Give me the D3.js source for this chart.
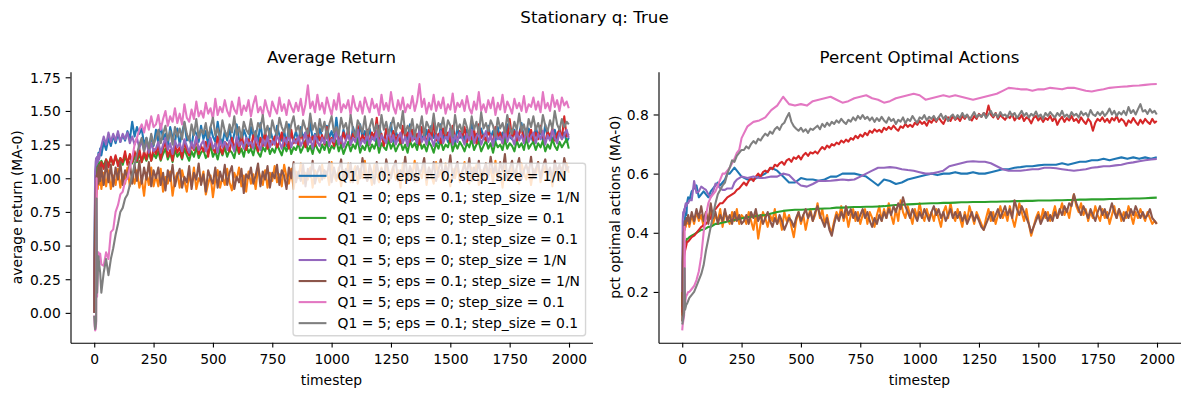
<!DOCTYPE html>
<html><head><meta charset="utf-8">
<script src="https://cdn.jsdelivr.net/npm/d3@7"></script>
<style>
body{margin:0;background:#fff}
svg{display:block}
text{font-family:"DejaVu Sans",sans-serif;fill:#000}
</style>
</head><body>
<svg id="c" width="1189" height="396"></svg>
<script>
// ---------------- DATA ----------------
// timesteps for the noisy series (dense) and the smooth series (coarse)
const stepsFine = [0,2,4,6,8,10,12,15,18,20, 25,30,40,50,60,70,80,90,100,110,
  120,130,140,150,160,170,180,190,200,210, 220,230,240,250,
  260,270,280,290,300,310,320,330,340,350, 360,370,380,390,400,410,420,430,440,450,
  460,470,480,490,500,510,520,530,540,550, 560,570,580,590,600,610,620,630,640,650,
  660,670,680,690,700,710,720,730,740,750, 760,770,780,790,800,810,820,830,840,850,
  860,870,880,890,900,910,920,930,940,950, 960,970,980,990,1000,1010,1020,1030,1040,1050,
  1060,1070,1080,1090,1100,1110,1120,1130,1140,1150, 1160,1170,1180,1190,1200,1210,1220,1230,1240,1250,
  1260,1270,1280,1290,1300,1310,1320,1330,1340,1350, 1360,1370,1380,1390,1400,1410,1420,1430,1440,1450,
  1460,1470,1480,1490,1500,1510,1520,1530,1540,1550, 1560,1570,1580,1590,1600,1610,1620,1630,1640,1650,
  1660,1670,1680,1690,1700,1710,1720,1730,1740,1750, 1760,1770,1780,1790,1800,1810,1820,1830,1840,1850,
  1860,1870,1880,1890,1900,1910,1920,1930,1940,1950, 1960,1970,1980,1990,1999];
const stepsCoarse = [0,2,4,6,8,10,12,15,18,20, 25,30,40,50,60,70,80,90,100,110,
  120,130,140,150,160,170,180,190,200,210, 220,230,240,250,
  275,300,325,350,375,400,425,450,475,500, 525,550,575,600,625,650,675,700,725,750,
  775,800,825,850,875,900,925,950,975,1000, 1025,1050,1075,1100,1125,1150,1175,1200,1225,1250,
  1275,1300,1325,1350,1375,1400,1425,1450,1475,1500, 1525,1550,1575,1600,1625,1650,1675,1700,1725,1750,
  1775,1800,1825,1850,1875,1900,1925,1950,1975,1999];

const seriesLabels = [
  "Q1 = 0; eps = 0; step_size = 1/N",
  "Q1 = 0; eps = 0.1; step_size = 1/N",
  "Q1 = 0; eps = 0; step_size = 0.1",
  "Q1 = 0; eps = 0.1; step_size = 0.1",
  "Q1 = 5; eps = 0; step_size = 1/N",
  "Q1 = 5; eps = 0.1; step_size = 1/N",
  "Q1 = 5; eps = 0; step_size = 0.1",
  "Q1 = 5; eps = 0.1; step_size = 0.1"
];
const colors = ["#1f77b4","#ff7f0e","#2ca02c","#d62728","#9467bd","#8c564b","#e377c2","#7f7f7f"];

const xTicks = [0,250,500,750,1000,1250,1500,1750,2000];
const retTicks = [0,0.25,0.5,0.75,1.0,1.25,1.5,1.75];
const pctTicks = [0.2,0.4,0.6,0.8];

// ----- Average return (MA-0), on stepsFine -----
const ret_q0_e0_1N = [0.02,0.55,0.92,1.05,1.1,1.12,1.15,1.12,1.19,1.14,
 1.22,1.17,1.27,1.21,1.3,1.24,1.32,1.26,1.33,1.27,
 1.32,1.28,1.35,1.29,1.42,1.31,1.38,1.33,1.37,1.25,
 1.3,1.22,1.31,1.24,
 1.36,1.26,1.4,1.29,1.33,1.24,1.38,1.3,1.27,1.37,
 1.25,1.34,1.41,1.28,1.31,1.23,1.36,1.33,1.27,1.39,
 1.29,1.35,1.24,1.38,1.31,1.27,1.42,1.3,1.26,1.35,
 1.28,1.37,1.25,1.33,1.4,1.29,1.26,1.36,1.31,1.24,
 1.38,1.3,1.35,1.27,1.41,1.28,1.33,1.25,1.37,1.3,
 1.26,1.39,1.32,1.28,1.36,1.24,1.4,1.31,1.29,1.35,
 1.27,1.38,1.3,1.34,1.25,1.42,1.29,1.33,1.27,1.37,
 1.31,1.26,1.39,1.3,1.35,1.28,1.45,1.3,1.26,1.36,
 1.29,1.34,1.25,1.38,1.32,1.27,1.4,1.3,1.35,1.26,
 1.37,1.29,1.33,1.25,1.39,1.31,1.28,1.36,1.3,1.41,
 1.27,1.35,1.3,1.26,1.38,1.32,1.29,1.4,1.28,1.34,
 1.25,1.37,1.31,1.29,1.36,1.27,1.39,1.3,1.33,1.26,
 1.4,1.29,1.34,1.27,1.37,1.31,1.25,1.38,1.3,1.35,
 1.28,1.36,1.3,1.42,1.29,1.33,1.26,1.37,1.31,1.28,
 1.39,1.3,1.35,1.27,1.38,1.29,1.34,1.26,1.4,1.31,
 1.29,1.36,1.28,1.33,1.41,1.3,1.27,1.37,1.32,1.26,
 1.38,1.31,1.35,1.28,1.4,1.3,1.33,1.27,1.36,1.29,
 1.37,1.3,1.34,1.27,1.3];
const ret_q0_e01_1N = [0.0,0.3,0.55,0.72,0.83,0.9,0.97,0.92,1.04,0.95,
 1.02,0.92,1.04,0.94,1.06,0.92,1.02,0.95,1.07,0.93,
 1.03,0.96,1.08,0.94,1.02,0.96,1.06,0.93,1.0,0.87,
 1.04,0.95,1.08,0.94,
 1.02,0.94,1.07,0.9,1.01,0.96,1.05,0.87,0.99,1.04,
 0.93,1.06,0.98,0.9,1.03,0.95,1.08,0.92,1.0,0.97,
 1.05,0.88,0.96,1.02,0.86,0.99,1.06,0.93,1.01,0.95,
 1.07,0.97,0.91,1.04,0.99,1.08,0.94,1.02,0.9,1.05,
 0.96,1.03,0.92,1.08,1.0,0.95,1.06,0.93,1.04,0.98,
 1.09,0.97,1.03,0.94,1.1,1.01,0.96,1.07,0.92,1.05,
 1.0,1.11,0.96,1.04,0.99,1.08,0.93,1.06,1.02,0.97,
 1.1,1.0,1.05,0.95,1.12,1.02,0.98,1.08,0.94,1.06,
 1.01,1.11,0.97,1.04,1.09,0.96,1.07,1.0,1.13,0.98,
 1.05,0.95,1.1,1.02,0.97,1.08,1.01,1.12,0.96,1.04,
 1.09,0.99,1.06,0.93,1.11,1.02,0.98,1.07,1.03,1.13,
 0.97,1.05,1.0,1.1,0.95,1.08,1.02,0.96,1.12,1.01,
 1.06,0.98,1.11,1.03,0.94,1.07,1.0,1.1,0.97,1.05,
 1.12,1.01,0.96,1.08,1.03,1.1,0.95,1.06,0.99,1.11,
 1.02,1.07,0.97,1.13,1.0,1.05,0.93,1.09,1.03,0.98,
 1.1,1.01,1.06,0.96,1.11,1.04,0.99,1.08,0.95,1.07,
 1.02,1.12,0.97,1.05,1.09,1.0,1.06,0.94,1.1,1.03,
 0.98,1.08,1.01,1.11,1.04];
const ret_q0_e0_01 = [0.05,0.5,0.82,0.96,1.03,1.08,1.06,1.1,1.07,1.12,
 1.08,1.13,1.09,1.14,1.1,1.15,1.1,1.16,1.11,1.15,
 1.1,1.16,1.12,1.17,1.11,1.16,1.12,1.18,1.12,1.17,
 1.13,1.19,1.13,1.18,
 1.15,1.2,1.13,1.18,1.22,1.14,1.19,1.12,1.21,1.16,
 1.19,1.14,1.22,1.17,1.13,1.2,1.16,1.23,1.15,1.19,
 1.21,1.15,1.18,1.24,1.16,1.2,1.14,1.22,1.17,1.23,
 1.16,1.21,1.19,1.15,1.24,1.18,1.22,1.16,1.25,1.19,
 1.22,1.17,1.25,1.19,1.16,1.23,1.2,1.26,1.18,1.22,
 1.19,1.25,1.21,1.17,1.24,1.2,1.27,1.18,1.23,1.21,
 1.26,1.19,1.23,1.28,1.2,1.24,1.18,1.26,1.22,1.19,
 1.25,1.21,1.27,1.19,1.24,1.22,1.28,1.2,1.25,1.18,
 1.23,1.27,1.2,1.25,1.22,1.29,1.19,1.24,1.21,1.27,
 1.2,1.25,1.22,1.28,1.19,1.26,1.23,1.21,1.29,1.22,
 1.26,1.2,1.24,1.27,1.21,1.25,1.19,1.28,1.23,1.26,
 1.21,1.29,1.22,1.25,1.2,1.27,1.24,1.19,1.26,1.22,
 1.28,1.21,1.25,1.23,1.3,1.2,1.26,1.22,1.27,1.24,
 1.2,1.26,1.23,1.29,1.21,1.25,1.27,1.2,1.24,1.28,
 1.22,1.26,1.19,1.27,1.23,1.25,1.21,1.29,1.22,1.26,
 1.24,1.2,1.28,1.23,1.26,1.21,1.3,1.22,1.25,1.27,
 1.21,1.26,1.23,1.28,1.2,1.25,1.22,1.29,1.24,1.21,
 1.27,1.23,1.26,1.29,1.22];
const ret_q0_e01_01 = [0.1,0.4,0.6,0.76,0.87,0.95,1.0,1.05,1.02,1.08,
 1.05,1.12,1.07,1.14,1.08,1.16,1.1,1.17,1.09,1.15,
 1.12,1.2,1.1,1.18,1.12,1.2,1.13,1.22,1.12,1.2,
 1.14,1.24,1.13,1.22,
 1.18,1.25,1.14,1.22,1.27,1.16,1.21,1.13,1.26,1.19,
 1.23,1.15,1.28,1.2,1.17,1.25,1.21,1.3,1.18,1.24,
 1.2,1.27,1.16,1.29,1.22,1.19,1.31,1.23,1.18,1.27,
 1.25,1.2,1.3,1.22,1.28,1.19,1.33,1.24,1.21,1.29,
 1.23,1.32,1.26,1.2,1.3,1.24,1.35,1.22,1.28,1.25,
 1.31,1.23,1.27,1.34,1.24,1.3,1.22,1.36,1.26,1.29,
 1.25,1.33,1.28,1.23,1.37,1.27,1.31,1.24,1.35,1.28,
 1.32,1.25,1.38,1.27,1.3,1.24,1.36,1.29,1.26,1.34,
 1.28,1.37,1.25,1.33,1.3,1.39,1.26,1.32,1.28,1.36,
 1.25,1.34,1.29,1.45,1.27,1.33,1.24,1.37,1.3,1.27,
 1.35,1.28,1.32,1.26,1.39,1.3,1.34,1.27,1.36,1.29,
 1.33,1.25,1.38,1.31,1.27,1.36,1.29,1.42,1.28,1.33,
 1.26,1.37,1.3,1.34,1.27,1.39,1.31,1.28,1.35,1.3,
 1.38,1.27,1.33,1.29,1.36,1.26,1.4,1.3,1.32,1.28,
 1.35,1.3,1.27,1.38,1.31,1.34,1.26,1.37,1.29,1.44,
 1.3,1.35,1.28,1.33,1.38,1.27,1.32,1.3,1.36,1.28,
 1.34,1.29,1.39,1.31,1.27,1.35,1.3,1.37,1.28,1.33,
 1.36,1.29,1.46,1.31,1.33];
const ret_q5_e0_1N = [0.0,0.7,1.05,1.12,1.15,1.1,1.16,1.12,1.18,1.14,
 1.2,1.24,1.31,1.25,1.34,1.27,1.33,1.28,1.35,1.27,
 1.33,1.29,1.34,1.26,1.31,1.25,1.3,1.22,1.28,1.2,
 1.27,1.19,1.26,1.2,
 1.22,1.27,1.19,1.25,1.3,1.21,1.26,1.18,1.28,1.23,
 1.26,1.2,1.29,1.24,1.19,1.27,1.22,1.31,1.21,1.25,
 1.28,1.2,1.24,1.3,1.22,1.26,1.19,1.29,1.23,1.27,
 1.21,1.28,1.25,1.2,1.31,1.24,1.27,1.22,1.3,1.25,
 1.27,1.22,1.32,1.25,1.21,1.29,1.24,1.31,1.23,1.28,
 1.25,1.32,1.27,1.22,1.3,1.26,1.33,1.23,1.29,1.26,
 1.31,1.24,1.28,1.34,1.25,1.3,1.22,1.32,1.27,1.24,
 1.3,1.26,1.33,1.24,1.29,1.27,1.35,1.25,1.31,1.23,
 1.28,1.34,1.25,1.3,1.27,1.36,1.24,1.29,1.26,1.33,
 1.25,1.31,1.28,1.35,1.24,1.32,1.29,1.26,1.36,1.27,
 1.32,1.25,1.3,1.34,1.26,1.31,1.24,1.35,1.28,1.32,
 1.26,1.36,1.27,1.31,1.25,1.33,1.3,1.24,1.32,1.28,
 1.35,1.26,1.31,1.29,1.37,1.25,1.32,1.27,1.34,1.3,
 1.25,1.33,1.28,1.36,1.26,1.31,1.34,1.25,1.3,1.35,
 1.27,1.32,1.24,1.34,1.29,1.31,1.26,1.36,1.27,1.32,
 1.3,1.25,1.35,1.28,1.32,1.26,1.37,1.27,1.31,1.34,
 1.26,1.33,1.29,1.35,1.25,1.32,1.28,1.36,1.3,1.26,
 1.34,1.29,1.32,1.36,1.3];
const ret_q5_e01_1N = [0.0,0.4,0.7,0.88,0.96,1.02,0.95,1.08,0.96,1.1,
 0.98,1.08,0.95,1.12,0.97,1.1,0.94,1.08,0.99,1.12,
 0.95,1.06,1.0,1.12,0.96,1.1,0.98,1.13,0.96,1.08,
 0.99,1.12,0.94,1.06,
 1.0,1.08,0.95,1.04,0.91,1.06,0.98,1.1,0.94,1.02,
 1.07,0.93,1.01,0.97,1.09,0.92,1.04,0.99,1.11,0.95,
 1.03,0.9,1.06,1.0,0.96,1.08,0.93,1.05,0.98,1.1,
 0.95,1.04,1.09,0.92,1.01,0.97,1.07,0.89,1.03,1.0,
 1.08,0.96,1.02,1.11,0.94,1.05,0.99,1.09,0.93,1.04,
 1.0,1.1,0.95,1.06,1.02,0.92,1.08,1.0,1.12,0.97,
 1.05,0.98,1.1,0.94,1.07,1.01,1.13,0.96,1.04,1.09,
 0.99,1.06,1.02,1.12,0.97,1.08,1.0,1.05,1.14,0.98,
 1.07,1.01,1.11,0.97,1.05,1.09,1.0,1.15,1.03,0.98,
 1.1,1.04,0.96,1.12,1.02,1.07,0.99,1.14,1.05,1.0,
 1.08,1.13,0.98,1.06,1.02,1.16,1.0,1.09,1.04,0.97,
 1.11,1.03,1.07,1.15,0.99,1.08,1.02,1.12,0.98,1.06,
 1.14,1.01,1.09,1.04,1.17,1.0,1.07,1.12,0.99,1.05,
 1.1,1.03,1.15,0.98,1.08,1.02,1.13,1.0,1.06,1.11,
 1.01,1.16,1.04,1.09,0.99,1.12,1.05,1.18,1.0,1.07,
 1.13,1.02,1.08,1.15,0.99,1.06,1.1,1.03,1.16,1.01,
 1.07,1.12,1.0,1.09,1.14,1.03,1.08,0.99,1.13,1.05,
 1.1,1.02,1.15,1.06,1.09];
const ret_q5_e0_01 = [-0.02,-0.1,-0.13,-0.12,-0.08,1.0,0.12,0.3,0.45,0.42,
 0.44,0.36,0.35,0.45,0.4,0.6,0.62,0.75,0.8,0.88,
 0.9,0.98,1.0,1.08,1.15,1.25,1.3,1.36,1.4,1.34,
 1.43,1.36,1.46,1.38,
 1.4,1.47,1.36,1.44,1.5,1.39,1.46,1.42,1.52,1.41,
 1.48,1.4,1.55,1.45,1.42,1.51,1.44,1.57,1.46,1.5,
 1.45,1.56,1.48,1.52,1.44,1.59,1.47,1.53,1.49,1.58,
 1.5,1.46,1.57,1.51,1.48,1.6,1.47,1.54,1.5,1.58,
 1.46,1.55,1.61,1.49,1.53,1.47,1.58,1.51,1.46,1.57,
 1.52,1.48,1.6,1.5,1.55,1.47,1.58,1.53,1.49,1.56,
 1.5,1.59,1.47,1.55,1.69,1.52,1.57,1.49,1.62,1.51,
 1.56,1.48,1.6,1.53,1.47,1.58,1.51,1.63,1.49,1.55,
 1.52,1.58,1.47,1.61,1.53,1.5,1.57,1.48,1.6,1.54,
 1.49,1.59,1.52,1.55,1.47,1.62,1.51,1.56,1.5,1.64,
 1.53,1.48,1.58,1.51,1.6,1.49,1.55,1.52,1.61,1.5,
 1.57,1.7,1.53,1.59,1.48,1.56,1.51,1.62,1.5,1.57,
 1.52,1.6,1.48,1.55,1.51,1.63,1.49,1.56,1.53,1.58,
 1.5,1.61,1.52,1.48,1.57,1.51,1.64,1.5,1.55,1.49,
 1.58,1.52,1.6,1.47,1.56,1.51,1.62,1.49,1.57,1.53,
 1.48,1.59,1.52,1.56,1.5,1.61,1.49,1.55,1.53,1.6,
 1.51,1.57,1.49,1.64,1.52,1.56,1.5,1.62,1.53,1.58,
 1.5,1.6,1.54,1.57,1.52];
const ret_q5_e01_01 = [-0.02,-0.08,-0.12,-0.1,-0.06,0.85,0.15,0.3,0.42,0.38,
 0.3,0.15,0.3,0.4,0.28,0.4,0.48,0.58,0.66,0.75,
 0.78,0.85,0.88,0.95,1.02,1.1,1.18,1.25,1.3,1.2,
 1.3,1.22,1.33,1.25,
 1.3,1.36,1.26,1.33,1.39,1.28,1.35,1.25,1.38,1.31,
 1.37,1.29,1.42,1.33,1.28,1.4,1.32,1.44,1.3,1.36,
 1.33,1.41,1.3,1.38,1.45,1.32,1.37,1.29,1.43,1.35,
 1.31,1.4,1.34,1.46,1.32,1.38,1.3,1.42,1.36,1.33,
 1.44,1.35,1.31,1.41,1.37,1.47,1.33,1.39,1.3,1.43,
 1.36,1.32,1.45,1.38,1.34,1.42,1.31,1.4,1.46,1.35,
 1.39,1.31,1.43,1.37,1.33,1.48,1.36,1.41,1.32,1.44,
 1.35,1.42,1.3,1.4,1.46,1.34,1.38,1.32,1.45,1.37,
 1.41,1.33,1.47,1.36,1.31,1.43,1.39,1.34,1.46,1.32,
 1.38,1.44,1.35,1.4,1.31,1.47,1.36,1.42,1.33,1.39,
 1.45,1.34,1.41,1.37,1.5,1.33,1.39,1.35,1.44,1.31,
 1.4,1.36,1.46,1.32,1.42,1.38,1.35,1.48,1.34,1.41,
 1.37,1.45,1.33,1.43,1.39,1.31,1.47,1.36,1.4,1.34,
 1.44,1.38,1.32,1.46,1.36,1.42,1.33,1.49,1.37,1.41,
 1.35,1.43,1.39,1.31,1.45,1.37,1.41,1.34,1.47,1.38,
 1.33,1.42,1.36,1.48,1.35,1.4,1.32,1.44,1.38,1.46,
 1.36,1.41,1.34,1.47,1.39,1.35,1.43,1.37,1.5,1.4,
 1.36,1.44,1.38,1.42,1.4];

// ----- Percent optimal actions (MA-0) -----
// smooth series, on stepsCoarse
const pct_q0_e0_1N = [0.15,0.3,0.38,0.42,0.44,0.41,0.45,0.47,0.46,0.5,
 0.52,0.51,0.54,0.55,0.56,0.52,0.53,0.54,0.53,0.52,
 0.54,0.55,0.56,0.57,0.56,0.57,0.58,0.6,0.6,0.61,
 0.62,0.61,0.6,0.59,
 0.58,0.58,0.59,0.6,0.62,0.61,0.59,0.57,0.57,0.585,
 0.58,0.58,0.576,0.58,0.59,0.59,0.6,0.6,0.6,0.595,
 0.59,0.575,0.56,0.58,0.575,0.565,0.57,0.58,0.585,0.59,
 0.595,0.6,0.595,0.6,0.6,0.605,0.6,0.6,0.605,0.6,
 0.6,0.605,0.61,0.615,0.615,0.62,0.622,0.625,0.625,0.628,
 0.63,0.63,0.63,0.635,0.63,0.635,0.64,0.64,0.645,0.645,
 0.65,0.645,0.65,0.655,0.65,0.655,0.65,0.655,0.65,0.655];
const pct_q0_e0_01 = [0.15,0.3,0.34,0.35,0.36,0.36,0.37,0.37,0.375,0.38,
 0.38,0.385,0.39,0.395,0.4,0.405,0.41,0.41,0.415,0.42,
 0.42,0.425,0.43,0.43,0.432,0.435,0.436,0.438,0.44,0.441,
 0.443,0.445,0.447,0.449,
 0.452,0.455,0.458,0.46,0.465,0.47,0.474,0.476,0.478,0.478,
 0.479,0.48,0.481,0.482,0.483,0.485,0.485,0.486,0.487,0.487,
 0.488,0.488,0.489,0.49,0.492,0.494,0.495,0.496,0.497,0.498,
 0.499,0.5,0.5,0.501,0.501,0.502,0.503,0.503,0.504,0.504,
 0.504,0.505,0.505,0.506,0.506,0.507,0.507,0.508,0.508,0.509,
 0.509,0.509,0.51,0.51,0.511,0.511,0.512,0.512,0.513,0.513,
 0.513,0.514,0.514,0.515,0.515,0.516,0.516,0.517,0.518,0.519];
const pct_q5_e0_1N = [0.2,0.44,0.47,0.46,0.48,0.47,0.49,0.5,0.49,0.5,
 0.5,0.51,0.51,0.575,0.535,0.54,0.556,0.55,0.545,0.53,
 0.52,0.54,0.566,0.56,0.55,0.545,0.545,0.55,0.55,0.55,
 0.57,0.58,0.585,0.59,
 0.585,0.59,0.585,0.586,0.59,0.59,0.6,0.595,0.575,0.56,
 0.556,0.565,0.576,0.575,0.576,0.578,0.58,0.578,0.58,0.59,
 0.6,0.61,0.62,0.62,0.622,0.62,0.615,0.612,0.61,0.605,
 0.6,0.6,0.605,0.61,0.625,0.63,0.635,0.64,0.642,0.64,
 0.64,0.635,0.625,0.615,0.61,0.61,0.61,0.612,0.615,0.615,
 0.62,0.62,0.618,0.615,0.612,0.61,0.612,0.615,0.62,0.622,
 0.625,0.625,0.628,0.63,0.635,0.638,0.642,0.645,0.648,0.65];
const pct_q5_e0_01 = [0.07,0.09,0.1,0.11,0.12,0.42,0.16,0.18,0.19,0.19,
 0.2,0.2,0.21,0.22,0.24,0.27,0.32,0.4,0.46,0.5,
 0.52,0.53,0.54,0.56,0.58,0.6,0.6,0.61,0.62,0.635,
 0.65,0.67,0.68,0.72,
 0.76,0.775,0.78,0.79,0.815,0.83,0.86,0.835,0.83,0.835,
 0.83,0.845,0.85,0.855,0.86,0.85,0.84,0.845,0.855,0.86,
 0.865,0.855,0.85,0.84,0.845,0.855,0.86,0.865,0.87,0.865,
 0.85,0.855,0.86,0.865,0.86,0.865,0.86,0.855,0.85,0.855,
 0.86,0.865,0.87,0.88,0.89,0.888,0.885,0.885,0.88,0.885,
 0.885,0.89,0.888,0.885,0.89,0.89,0.885,0.88,0.878,0.882,
 0.885,0.89,0.892,0.894,0.895,0.897,0.898,0.9,0.902,0.903];
// noisy series, on stepsFine
const pct_q0_e01_1N = [0.12,0.3,0.38,0.4,0.42,0.41,0.43,0.42,0.44,0.43,
 0.45,0.42,0.46,0.43,0.47,0.44,0.46,0.42,0.47,0.44,
 0.48,0.43,0.46,0.44,0.48,0.42,0.47,0.45,0.43,0.47,
 0.44,0.48,0.43,0.46,
 0.45,0.43,0.47,0.44,0.41,0.46,0.38,0.43,0.47,0.45,
 0.42,0.46,0.44,0.48,0.43,0.45,0.41,0.47,0.44,0.46,
 0.42,0.385,0.44,0.47,0.43,0.46,0.41,0.45,0.48,0.44,
 0.46,0.5,0.45,0.48,0.43,0.46,0.42,0.4,0.44,0.47,
 0.45,0.49,0.44,0.47,0.42,0.46,0.48,0.44,0.47,0.43,
 0.46,0.48,0.43,0.47,0.45,0.42,0.46,0.49,0.44,0.48,
 0.45,0.5,0.46,0.43,0.48,0.44,0.51,0.47,0.45,0.49,
 0.46,0.43,0.48,0.45,0.5,0.46,0.44,0.48,0.45,0.47,
 0.44,0.48,0.45,0.42,0.47,0.49,0.45,0.5,0.46,0.44,
 0.48,0.45,0.42,0.47,0.44,0.49,0.46,0.43,0.47,0.45,
 0.43,0.41,0.45,0.48,0.44,0.47,0.43,0.46,0.49,0.45,
 0.47,0.44,0.49,0.45,0.42,0.46,0.5,0.47,0.44,0.48,
 0.43,0.39,0.42,0.45,0.47,0.44,0.48,0.45,0.47,0.44,
 0.46,0.49,0.45,0.47,0.5,0.46,0.48,0.45,0.5,0.53,
 0.49,0.47,0.5,0.46,0.48,0.44,0.47,0.45,0.49,0.46,
 0.44,0.48,0.45,0.47,0.43,0.46,0.49,0.45,0.48,0.44,
 0.47,0.45,0.49,0.46,0.43,0.47,0.45,0.48,0.46,0.44,
 0.47,0.45,0.43,0.44,0.43];
const pct_q0_e01_01 = [0.13,0.2,0.27,0.3,0.32,0.33,0.34,0.35,0.36,0.37,
 0.37,0.375,0.385,0.39,0.4,0.41,0.42,0.425,0.43,0.44,
 0.45,0.47,0.48,0.49,0.5,0.5,0.51,0.52,0.525,0.53,
 0.535,0.545,0.55,0.56,
 0.57,0.56,0.575,0.585,0.575,0.59,0.6,0.59,0.605,0.61,
 0.605,0.62,0.615,0.63,0.625,0.635,0.64,0.63,0.645,0.65,
 0.64,0.655,0.65,0.66,0.648,0.662,0.67,0.66,0.672,0.668,
 0.675,0.668,0.68,0.69,0.682,0.695,0.688,0.7,0.695,0.705,
 0.7,0.712,0.705,0.715,0.708,0.72,0.715,0.728,0.72,0.732,
 0.725,0.738,0.73,0.745,0.738,0.75,0.742,0.748,0.74,0.755,
 0.748,0.758,0.75,0.762,0.752,0.745,0.76,0.755,0.768,0.758,
 0.765,0.758,0.772,0.765,0.778,0.768,0.775,0.762,0.78,0.772,
 0.785,0.775,0.79,0.778,0.768,0.785,0.79,0.778,0.795,0.782,
 0.79,0.778,0.795,0.785,0.798,0.788,0.78,0.795,0.785,0.802,
 0.792,0.805,0.795,0.83,0.8,0.79,0.805,0.785,0.798,0.79,
 0.782,0.795,0.788,0.8,0.78,0.792,0.785,0.798,0.778,0.79,
 0.785,0.77,0.788,0.795,0.78,0.79,0.775,0.788,0.782,0.795,
 0.778,0.79,0.765,0.782,0.792,0.775,0.788,0.78,0.795,0.778,
 0.785,0.772,0.79,0.778,0.768,0.785,0.775,0.745,0.772,0.785,
 0.778,0.79,0.775,0.785,0.772,0.788,0.78,0.795,0.775,0.785,
 0.778,0.762,0.78,0.772,0.788,0.775,0.765,0.782,0.77,0.785,
 0.775,0.768,0.785,0.772,0.778];
const pct_q5_e01_1N = [0.1,0.25,0.35,0.4,0.41,0.42,0.44,0.43,0.45,0.44,
 0.46,0.43,0.47,0.44,0.48,0.45,0.49,0.44,0.47,0.43,
 0.5,0.45,0.47,0.43,0.46,0.44,0.48,0.44,0.46,0.43,
 0.47,0.44,0.46,0.43,
 0.44,0.46,0.43,0.47,0.45,0.48,0.44,0.46,0.43,0.45,
 0.47,0.44,0.42,0.45,0.43,0.46,0.44,0.41,0.43,0.45,
 0.44,0.42,0.45,0.47,0.44,0.46,0.48,0.45,0.47,0.44,
 0.47,0.49,0.46,0.44,0.42,0.45,0.41,0.39,0.43,0.46,
 0.44,0.47,0.45,0.49,0.46,0.48,0.45,0.47,0.44,0.46,
 0.48,0.45,0.47,0.44,0.42,0.45,0.43,0.46,0.44,0.47,
 0.45,0.48,0.46,0.49,0.47,0.5,0.48,0.52,0.49,0.47,
 0.45,0.48,0.46,0.44,0.47,0.45,0.48,0.46,0.44,0.47,
 0.49,0.46,0.48,0.45,0.47,0.44,0.46,0.48,0.45,0.47,
 0.45,0.47,0.44,0.46,0.43,0.45,0.47,0.44,0.46,0.44,
 0.42,0.41,0.43,0.45,0.47,0.44,0.46,0.48,0.45,0.47,
 0.49,0.46,0.48,0.45,0.51,0.48,0.46,0.49,0.47,0.45,
 0.43,0.4,0.42,0.44,0.46,0.43,0.45,0.47,0.44,0.46,
 0.44,0.47,0.45,0.48,0.46,0.49,0.47,0.5,0.49,0.53,
 0.5,0.48,0.46,0.49,0.47,0.45,0.48,0.46,0.44,0.47,
 0.49,0.46,0.48,0.45,0.47,0.5,0.47,0.45,0.48,0.46,
 0.44,0.47,0.45,0.48,0.46,0.49,0.47,0.45,0.47,0.45,
 0.46,0.48,0.45,0.44,0.43];
const pct_q5_e01_01 = [0.09,0.1,0.11,0.12,0.13,0.28,0.14,0.15,0.16,0.16,
 0.17,0.18,0.19,0.2,0.22,0.24,0.26,0.29,0.34,0.38,
 0.42,0.46,0.5,0.53,0.545,0.56,0.57,0.6,0.62,0.645,
 0.64,0.66,0.67,0.68,
 0.68,0.692,0.685,0.7,0.71,0.702,0.718,0.712,0.725,0.735,
 0.728,0.742,0.735,0.75,0.758,0.748,0.765,0.772,0.79,0.805,
 0.775,0.76,0.752,0.745,0.755,0.742,0.75,0.738,0.752,0.748,
 0.755,0.762,0.75,0.768,0.758,0.772,0.762,0.775,0.768,0.78,
 0.772,0.785,0.775,0.768,0.782,0.776,0.79,0.78,0.795,0.785,
 0.798,0.785,0.792,0.78,0.79,0.775,0.788,0.778,0.792,0.78,
 0.772,0.79,0.778,0.785,0.768,0.782,0.776,0.79,0.77,0.785,
 0.778,0.795,0.782,0.772,0.79,0.785,0.798,0.78,0.792,0.785,
 0.795,0.78,0.79,0.802,0.785,0.795,0.778,0.792,0.8,0.785,
 0.798,0.788,0.805,0.79,0.8,0.782,0.795,0.808,0.79,0.8,
 0.792,0.805,0.788,0.8,0.812,0.795,0.803,0.79,0.808,0.795,
 0.8,0.79,0.81,0.795,0.805,0.788,0.8,0.812,0.795,0.805,
 0.79,0.802,0.795,0.81,0.792,0.8,0.785,0.805,0.795,0.808,
 0.798,0.79,0.805,0.795,0.812,0.792,0.8,0.79,0.808,0.796,
 0.802,0.79,0.81,0.798,0.805,0.792,0.815,0.8,0.795,0.808,
 0.798,0.81,0.795,0.805,0.82,0.8,0.812,0.795,0.808,0.8,
 0.812,0.798,0.825,0.805,0.815,0.8,0.818,0.835,0.81,0.815,
 0.802,0.818,0.806,0.812,0.8];

const returnSeries = [
  {steps: stepsFine, values: ret_q0_e0_1N}, {steps: stepsFine, values: ret_q0_e01_1N},
  {steps: stepsFine, values: ret_q0_e0_01}, {steps: stepsFine, values: ret_q0_e01_01},
  {steps: stepsFine, values: ret_q5_e0_1N}, {steps: stepsFine, values: ret_q5_e01_1N},
  {steps: stepsFine, values: ret_q5_e0_01}, {steps: stepsFine, values: ret_q5_e01_01}];
const pctSeries = [
  {steps: stepsCoarse, values: pct_q0_e0_1N}, {steps: stepsFine, values: pct_q0_e01_1N},
  {steps: stepsCoarse, values: pct_q0_e0_01}, {steps: stepsFine, values: pct_q0_e01_01},
  {steps: stepsCoarse, values: pct_q5_e0_1N}, {steps: stepsFine, values: pct_q5_e01_1N},
  {steps: stepsCoarse, values: pct_q5_e0_01}, {steps: stepsFine, values: pct_q5_e01_01}];

// ---------------- DRAW ----------------
const svg = d3.select("#c");
const PT = 100/72;
const FS = 10*PT, TFS = 12*PT;
const TOP = 71.7, BOT = 342.7;

const bad = [...returnSeries, ...pctSeries].map((s,i)=>[i,s.values.length,s.steps.length]).filter(d=>d[1]!==d[2]);
if (bad.length) svg.append("text").attr("x",10).attr("y",390).attr("font-size",12).attr("fill","red").text("LEN MISMATCH " + JSON.stringify(bad));

function padExt(e){ const r = e[1]-e[0]; return [e[0]-0.05*r, e[1]+0.05*r]; }

function panel(o){
  const g = svg.append("g");
  const allSteps = o.series.flatMap(s=>s.steps);
  const x = d3.scaleLinear().domain(padExt(d3.extent(allSteps))).range([o.x0, o.x1]);
  const y = d3.scaleLinear().domain(padExt(d3.extent(o.series.flatMap(s=>s.values)))).range([BOT, TOP]);
  const lg = g.append("g");
  o.series.forEach((s,k)=>{
    const line = d3.line().x((d,i)=>x(s.steps[i])).y(d=>y(d));
    lg.append("path").attr("d", line(s.values)).attr("fill","none")
      .attr("stroke", colors[k]).attr("stroke-width", 1.5*PT)
      .attr("stroke-linejoin","round").attr("stroke-linecap","butt");
  });
  const xa = g.append("g").attr("transform", `translate(0,${BOT})`)
    .call(d3.axisBottom(x).tickValues(xTicks).tickFormat(d3.format("d"))
      .tickSize(3.5*PT).tickPadding(3.5*PT).tickSizeOuter(0));
  const ya = g.append("g").attr("transform", `translate(${o.x0},0)`)
    .call(d3.axisLeft(y).tickValues(o.ticks).tickFormat(o.fmt)
      .tickSize(3.5*PT).tickPadding(3.5*PT).tickSizeOuter(0));
  [xa, ya].forEach(a=>{
    a.attr("font-family", null).attr("font-size", null);
    a.selectAll("path.domain").attr("stroke","#000").attr("stroke-width", 0.8*PT);
    a.selectAll(".tick line").attr("stroke","#000").attr("stroke-width", 0.8*PT);
    a.selectAll("text").attr("font-size", FS).attr("fill","#000");
  });
  xa.selectAll("text").attr("dy", null).attr("y", 21.5);
  ya.selectAll("text").attr("dy", "0.36em");
  g.append("text").attr("x", (o.x0+o.x1)/2).attr("y", 385).attr("text-anchor","middle")
    .attr("font-size", FS).text("timestep");
  g.append("text").attr("transform", `translate(${o.ylx},${(TOP+BOT)/2}) rotate(-90)`)
    .attr("text-anchor","middle").attr("font-size", FS).text(o.ylabel);
  g.append("text").attr("x", (o.x0+o.x1)/2).attr("y", TOP - 6*PT).attr("text-anchor","middle")
    .attr("font-size", TFS).text(o.title);
}

panel({x0:70.5, x1:592.5, series: returnSeries, ticks: retTicks, fmt: d3.format(".2f"),
  title: "Average Return", ylabel: "average return (MA-0)", ylx: 21.5});
panel({x0:658.5, x1:1180.5, series: pctSeries, ticks: pctTicks, fmt: d3.format(".1f"),
  title: "Percent Optimal Actions", ylabel: "pct optimal actions (MA-0)", ylx: 619.5});

svg.append("text").attr("x", 594.5).attr("y", 23).attr("text-anchor","middle")
  .attr("font-size", TFS).text("Stationary q: True");

// legend (left panel, lower right)
(function(){
  const bp = 0.4*FS, hl = 2*FS, htp = 0.8*FS, ls = 0.5*FS, rowH = 14.1;
  const right = 592.5 - 0.5*FS, bottom = BOT - 0.5*FS;
  const n = seriesLabels.length;
  const h = 2*bp + n*rowH + (n-1)*ls;
  const top = bottom - h;
  const lgd = svg.append("g");
  const box = lgd.append("rect");
  const items = lgd.append("g");
  let maxW = 0;
  const texts = seriesLabels.map((s,i)=>{
    const cy = top + bp + rowH/2 + i*(rowH+ls);
    const t = items.append("text").attr("y", cy + 5).attr("font-size", FS).text(s);
    maxW = Math.max(maxW, t.node().getComputedTextLength());
    return {t, cy};
  });
  const w = 2*bp + hl + htp + maxW;
  const left = right - w;
  box.attr("x", left).attr("y", top).attr("width", w).attr("height", h)
    .attr("rx", 0.2*FS).attr("ry", 0.2*FS)
    .attr("fill", "rgba(255,255,255,0.8)").attr("stroke", "rgba(204,204,204,0.8)").attr("stroke-width", PT);
  texts.forEach((d,i)=>{
    d.t.attr("x", left + bp + hl + htp);
    items.append("line").attr("x1", left + bp).attr("x2", left + bp + hl)
      .attr("y1", d.cy).attr("y2", d.cy).attr("stroke", colors[i]).attr("stroke-width", 1.5*PT);
  });
})();
</script>
</body></html>
